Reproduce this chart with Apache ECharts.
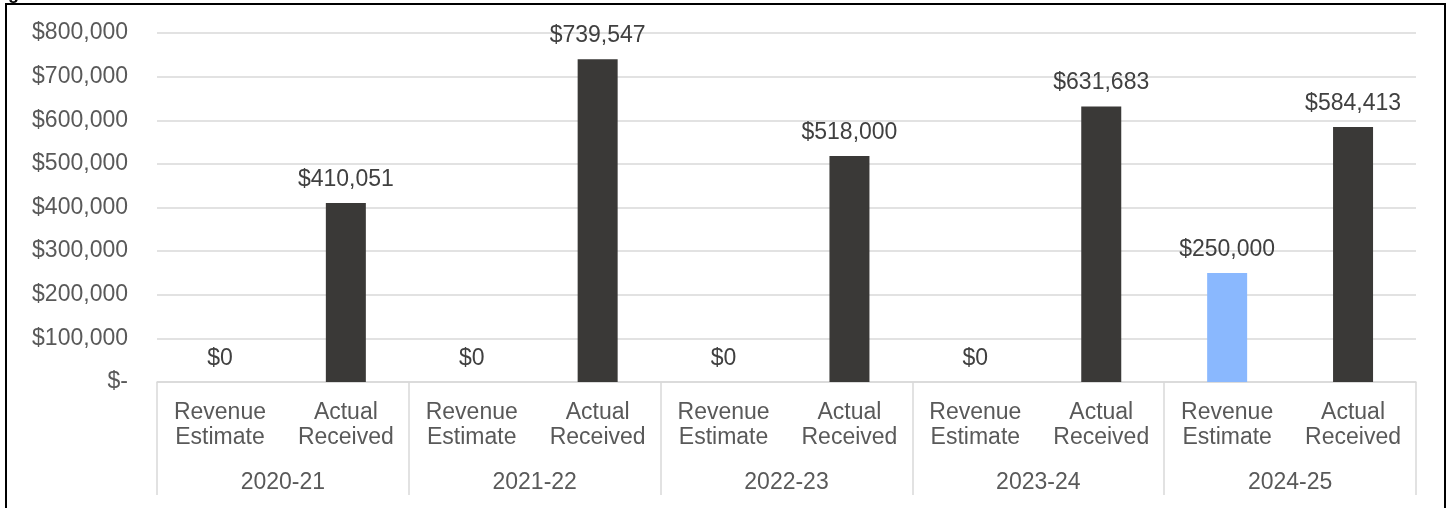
<!DOCTYPE html>
<html>
<head>
<meta charset="utf-8">
<script src="https://cdn.jsdelivr.net/npm/echarts@6/dist/echarts.min.js"></script>
<style>
html,body{margin:0;padding:0;background:#fff;}
#chart{width:1449px;height:508px;}
</style>
</head>
<body>
<div id="chart"></div>
<script>
const years = ['2020-21', '2021-22', '2022-23', '2023-24', '2024-25'];
const subCategories = ['Revenue\nEstimate', 'Actual\nReceived'];
const revenueEstimate = [0, 0, 0, 0, 250000];
const actualReceived = [410051, 739547, 518000, 631683, 584413];
const yTicks = [0, 100000, 200000, 300000, 400000, 500000, 600000, 700000, 800000];

const estColor = '#8AB8FE';
const actColor = '#3A3937';

function money(v) {
  return '$' + String(Math.round(v)).replace(/\B(?=(\d{3})+(?!\d))/g, ',');
}

const xCats = [];
const barData = [];
years.forEach((y, i) => {
  xCats.push(subCategories[0]);
  barData.push({ value: revenueEstimate[i], itemStyle: { color: estColor } });
  xCats.push(subCategories[1]);
  barData.push({ value: actualReceived[i], itemStyle: { color: actColor } });
});

const chart = echarts.init(document.getElementById('chart'), null, { renderer: 'canvas' });
const font = "'Liberation Sans', Arial, sans-serif";
chart.setOption({
  animation: false,
  backgroundColor: '#ffffff',
  grid: { left: 157, right: 33, top: 33, bottom: 126, containLabel: false },
  xAxis: [
    {
      type: 'category',
      data: xCats,
      position: 'bottom',
      axisLine: { show: true, lineStyle: { color: '#D9D9D9', width: 1.5 } },
      axisTick: { show: false },
      axisLabel: { interval: 0, fontSize: 23, lineHeight: 25, color: '#595959', fontFamily: font, margin: 18 },
      splitLine: { show: false }
    },
    {
      type: 'category',
      data: years,
      position: 'bottom',
      axisLine: { show: false },
      axisTick: { show: true, length: 113, interval: 0, lineStyle: { color: '#D9D9D9', width: 1.5 } },
      axisLabel: { interval: 0, fontSize: 23, lineHeight: 25, color: '#595959', fontFamily: font, margin: 88 },
      splitLine: { show: false }
    }
  ],
  yAxis: {
    type: 'value',
    min: yTicks[0],
    max: yTicks[yTicks.length - 1],
    interval: 100000,
    axisLine: { show: false },
    axisTick: { show: false },
    splitLine: { show: true, lineStyle: { color: '#D9D9D9', width: 1.5 } },
    axisLabel: {
      fontSize: 23, color: '#595959', fontFamily: font, margin: 29,
      formatter: v => v === 0 ? '$-' : money(v)
    }
  },
  series: [{
    type: 'bar',
    xAxisIndex: 0,
    data: barData,
    barWidth: 40,
    label: {
      show: true, position: 'top', distance: 12,
      fontSize: 23, color: '#404040', fontFamily: font,
      formatter: p => money(p.value)
    }
  }],
  graphic: [
    {
      type: 'rect', silent: true,
      shape: { x: 6, y: 4, width: 1439, height: 520 },
      style: { fill: 'none', stroke: '#000000', lineWidth: 2 }
    },
    {
      type: 'text', silent: true, left: 8, top: -15,
      style: { text: 'g', font: "bold 18px 'Liberation Sans', Arial", fill: '#000000' }
    }
  ]
});
</script>
</body>
</html>
